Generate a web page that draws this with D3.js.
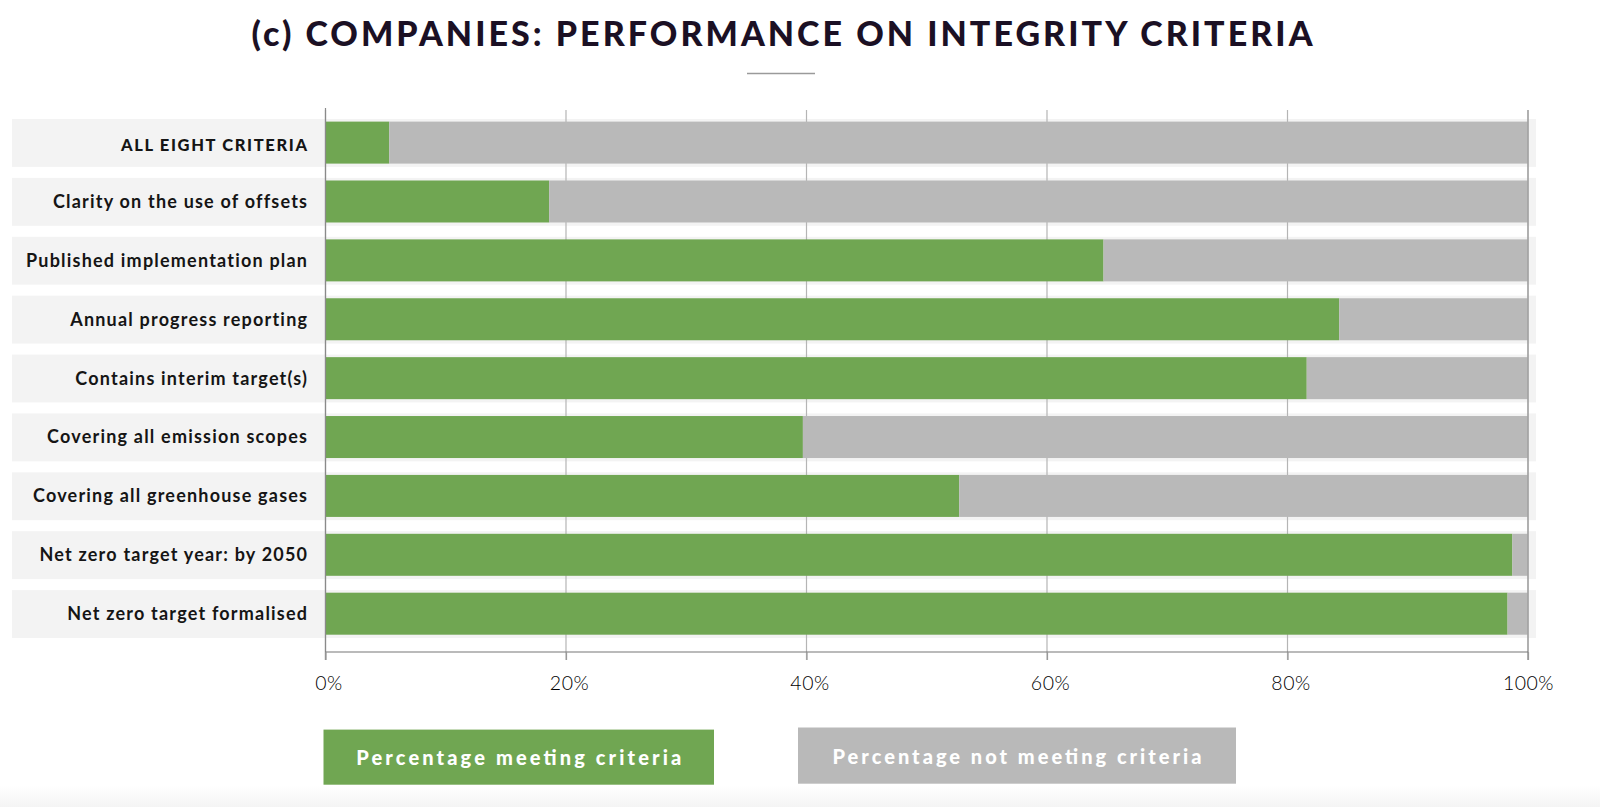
<!DOCTYPE html>
<html>
<head>
<meta charset="utf-8">
<script src="https://cdn.jsdelivr.net/npm/d3@7"></script>
<style>
  html, body { margin: 0; padding: 0; background: #fff; }
  svg { display: block; }
</style>
</head>
<body>
<svg id="chart" width="1600" height="807"></svg>
<script>
// ---- data ----
const categories = [
  "ALL EIGHT CRITERIA",
  "Clarity on the use of offsets",
  "Published implementation plan",
  "Annual progress reporting",
  "Contains interim target(s)",
  "Covering all emission scopes",
  "Covering all greenhouse gases",
  "Net zero target year: by 2050",
  "Net zero target formalised"
];
const meeting = [5.3, 18.6, 64.7, 84.3, 81.6, 39.7, 52.7, 98.7, 98.3];
const notMeeting = meeting.map(v => 100 - v);
const tickValues = [0, 20, 40, 60, 80, 100];
const tickLabels = ["0%", "20%", "40%", "60%", "80%", "100%"];
const seriesNames = ["Percentage meeting criteria", "Percentage not meeting criteria"];
const titleText = "(c) COMPANIES: PERFORMANCE ON INTEGRITY CRITERIA";

// ---- layout ----
const GREEN = "#70a652", GREY = "#b9b9b9", BAND = "#f3f3f3";
const svg = d3.select("#chart");

const x = d3.scaleLinear().domain([0, 100]).range([325.5, 1528]);
const y = d3.scaleBand().domain(categories).range([119, 638]).paddingInner(11 / 59).paddingOuter(0);

// bottom faint gradient
const defs = svg.append("defs");
const grad = defs.append("linearGradient").attr("id", "bg").attr("x1", 0).attr("x2", 0).attr("y1", 0).attr("y2", 1);
grad.append("stop").attr("offset", "0%").attr("stop-color", "#ffffff");
grad.append("stop").attr("offset", "100%").attr("stop-color", "#f4f4f4");
svg.append("rect").attr("x", 0).attr("y", 786).attr("width", 1600).attr("height", 21).attr("fill", "url(#bg)");

// title
svg.append("text")
  .attr("x", 782).attr("y", 45.5)
  .attr("text-anchor", "middle")
  .attr("font-family", "Lato, 'Open Sans', sans-serif")
  .attr("font-weight", 900)
  .attr("font-size", 34)
  .attr("fill", "#1b1024")
  .attr("textLength", 1061)
  .attr("lengthAdjust", "spacing")
  .text(titleText);
svg.append("line").attr("x1", 747).attr("x2", 815).attr("y1", 73.5).attr("y2", 73.5)
  .attr("stroke", "#9a9a9a").attr("stroke-width", 1.5);

// row bands
svg.append("g").selectAll("rect").data(categories).join("rect")
  .attr("x", 12).attr("width", 1536 - 12)
  .attr("y", d => y(d)).attr("height", y.bandwidth())
  .attr("fill", BAND);

// gridlines
svg.append("g").selectAll("line").data(tickValues).join("line")
  .attr("x1", d => x(d)).attr("x2", d => x(d))
  .attr("y1", 110).attr("y2", 660)
  .attr("stroke", d => (d === 0 ? "#8a8a8a" : "#b5b5b5"))
  .attr("stroke-width", 1.2);

// bars
const barInset = 2.6, barH = 42;
svg.append("g").selectAll("rect").data(categories).join("rect")
  .attr("x", x(0))
  .attr("y", d => y(d) + barInset).attr("height", barH)
  .attr("width", (d, i) => x(meeting[i]) - x(0))
  .attr("fill", GREEN);
svg.append("g").selectAll("rect").data(categories).join("rect")
  .attr("x", (d, i) => x(meeting[i]))
  .attr("y", d => y(d) + barInset).attr("height", barH)
  .attr("width", (d, i) => x(meeting[i] + notMeeting[i]) - x(meeting[i]))
  .attr("fill", GREY);

// re-draw 0 and 100 axis lines on top
svg.append("line").attr("x1", x(0)).attr("x2", x(0)).attr("y1", 108).attr("y2", 660)
  .attr("stroke", "#8a8a8a").attr("stroke-width", 1.2);
svg.append("line").attr("x1", x(100)).attr("x2", x(100)).attr("y1", 110).attr("y2", 660)
  .attr("stroke", "#9a9a9a").attr("stroke-width", 1.2);

// bottom axis
const axis = d3.axisBottom(x).tickValues(tickValues).tickFormat((d, i) => tickLabels[i]).tickSize(8).tickPadding(16);
const gAxis = svg.append("g").attr("transform", "translate(0,652)").call(axis);
gAxis.select(".domain").attr("stroke", "#777").attr("stroke-width", 1.2).attr("d", `M${x(0)},0H${x(100)}`);
gAxis.selectAll(".tick line").attr("stroke", "#999").attr("stroke-width", 1.2);
gAxis.selectAll(".tick text")
  .attr("font-family", "Lato, sans-serif")
  .attr("font-weight", 300)
  .attr("font-size", 19.5)
  .attr("fill", "#000")
  .attr("dx", (d) => (d === 100 ? 0 : 3))
  .attr("letter-spacing", 0.5);

// category labels
const labels = svg.append("g").selectAll("text").data(categories).join("text")
  .attr("x", 307)
  .attr("y", (d, i) => y(d) + y.bandwidth() / 2 + (i === 0 ? 2 : -1))
  .attr("dominant-baseline", "central")
  .attr("text-anchor", "end")
  .attr("font-family", "Lato, 'Open Sans', sans-serif")
  .attr("font-weight", (d, i) => (i === 0 ? 900 : 700))
  .attr("font-size", (d, i) => (i === 0 ? 16.5 : 18))
  .attr("fill", "#151515")
  .text(d => d);

// fit letter spacing to the reference width of one label
(function fitSpacing() {
  const ref = labels.filter((d, i) => i === 2).node();
  const w = ref.getComputedTextLength();
  const n = categories[2].length;
  const ls = Math.max(0, (282.5 - w) / n);
  labels.filter((d, i) => i > 0).attr("letter-spacing", ls);
  const first = labels.filter((d, i) => i === 0).node();
  const w0 = first.getComputedTextLength();
  labels.filter((d, i) => i === 0).attr("letter-spacing", Math.max(0, (187.6 - w0) / categories[0].length));
  labels.attr("dx", function () { return +d3.select(this).attr("letter-spacing") || 0; });
})();

// legend
const legendBoxes = [
  { x0: 323.5, x1: 714, y0: 729.6, y1: 784.7, fill: GREEN, w: 325 },
  { x0: 798, x1: 1236, y0: 727.5, y1: 783.7, fill: GREY, w: 369 }
];
const lg = svg.append("g").selectAll("g").data(seriesNames).join("g");
lg.append("rect")
  .attr("x", (d, i) => legendBoxes[i].x0).attr("y", (d, i) => legendBoxes[i].y0)
  .attr("width", (d, i) => legendBoxes[i].x1 - legendBoxes[i].x0)
  .attr("height", (d, i) => legendBoxes[i].y1 - legendBoxes[i].y0)
  .attr("fill", (d, i) => legendBoxes[i].fill);
lg.append("text")
  .attr("x", (d, i) => (legendBoxes[i].x0 + legendBoxes[i].x1) / 2)
  .attr("y", (d, i) => (legendBoxes[i].y0 + legendBoxes[i].y1) / 2)
  .attr("dominant-baseline", "central")
  .attr("text-anchor", "middle")
  .attr("font-family", "Lato, 'Open Sans', sans-serif")
  .attr("font-weight", 900)
  .attr("font-size", 20)
  .attr("fill", "#ffffff")
  .attr("textLength", (d, i) => legendBoxes[i].w)
  .attr("lengthAdjust", "spacing")
  .text(d => d);
</script>
</body>
</html>
